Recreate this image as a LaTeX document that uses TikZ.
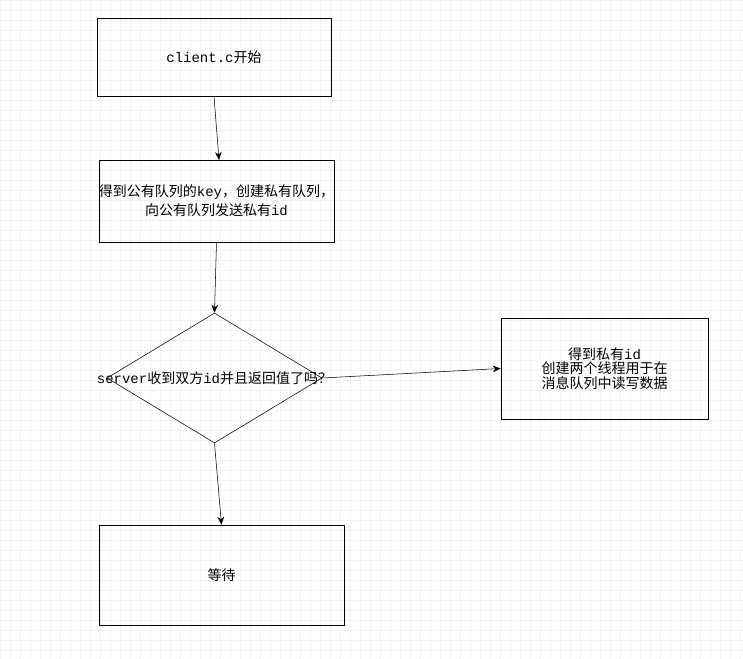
\documentclass[tikz,border=0pt]{standalone}
\usepackage{fontspec}
\setmonofont{Liberation Mono}
\newfontfamily\cjk{Noto Sans CJK SC}
\usetikzlibrary{shapes.geometric,arrows.meta,positioning}
\tikzset{
  block/.style={rectangle, draw, inner sep=0pt, font=\cjk\fontsize{10.5}{9}\selectfont, align=center},
  decision/.style={diamond, draw, inner sep=0pt, shape aspect=1.65},
  answer/.style={font=\cjk\fontsize{10.5}{9}\selectfont},
  line/.style={draw, -{Stealth[length=6pt,width=5pt]}}
}
\begin{document}
\begin{tikzpicture}[x=0.75pt,y=-0.75pt]
  \useasboundingbox (0,0) rectangle (743,659);
  % background grid
  \draw[black!5, step=7.5pt] (0,0) grid (743,659);
  % Place nodes
  \node [block, minimum width=175.5pt, minimum height=58.5pt] (start) at (214,57) {\texttt{client.c}开始};
  \node [block, minimum width=176.25pt, minimum height=61.5pt] (getkey) at (216.5,201) {得到公有队列的\texttt{key}，创建私有队列，\\[2pt]向公有队列发送私有\texttt{id}};
  \node [decision, minimum width=161.25pt, minimum height=97.5pt] (recv) at (214.5,378) {};
  \node [answer] (recvtext) at (recv.center) {\texttt{server}收到双方\texttt{id}并且返回值了吗？};
  \node [block, minimum width=155.25pt, minimum height=75.75pt] (thread) at (604.5,368.5) {得到私有\texttt{id}\\[0pt]创建两个线程用于在\\[0pt]消息队列中读写数据};
  \node [block, minimum width=183.75pt, minimum height=75pt] (wait) at (221.5,575) {等待};
  % Draw edges
  \path [line] (start.south) -- (219,160);
  \path [line] (getkey.south) -- (recv.north);
  \path [line] (recv.east) -- (thread.west);
  \path [line] (recv.south) -- (wait.north);
\end{tikzpicture}
\end{document}
